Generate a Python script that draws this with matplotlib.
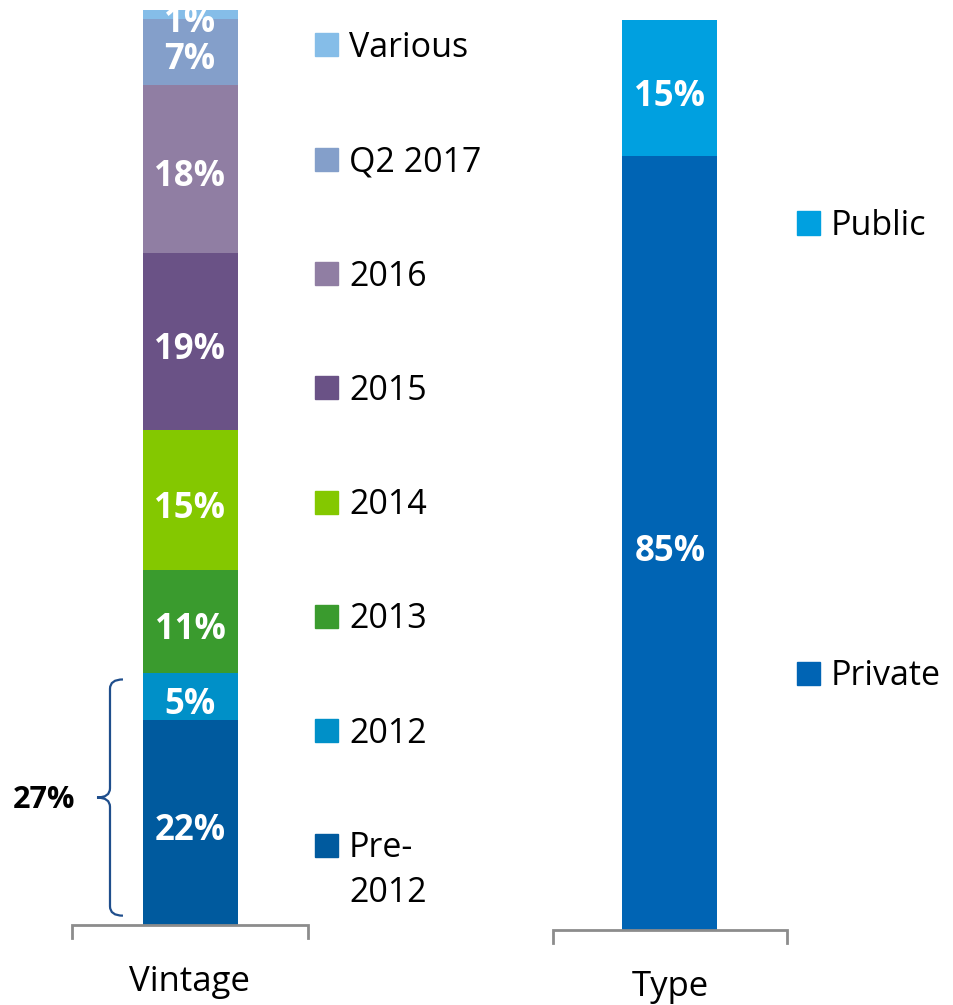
import matplotlib.pyplot as plt
from matplotlib.patches import Rectangle, PathPatch
from matplotlib.path import Path
import matplotlib.transforms as mtransforms

plt.rcParams['font.family'] = ['Open Sans', 'DejaVu Sans']

# Vintage breakdown (bottom to top)
vintage_labels = ['Pre-\n2012', '2012', '2013', '2014', '2015', '2016', 'Q2 2017', 'Various']
vintage_values = [22, 5, 11, 15, 19, 18, 7, 1]
vintage_colors = ['#005A9E', '#0090C8', '#3A9B2E', '#84C800', '#6A5286', '#907EA3', '#849FCA', '#85BDE8']

# Type breakdown (bottom to top)
type_labels = ['Private', 'Public']
type_values = [85, 15]
type_colors = ['#0064B4', '#00A0E0']

bracket_total = vintage_values[0] + vintage_values[1]

W, H = 954, 1005
fig = plt.figure(figsize=(W / 100, H / 100), dpi=100)


def px_axes(x0, x1, ytop, ybot):
    return fig.add_axes([x0 / W, 1 - ybot / H, (x1 - x0) / W, (ybot - ytop) / H])


def stacked(ax, values, colors, width, top):
    bottom = 0
    for v, c in zip(values, colors):
        ax.bar(0, v, width=width, bottom=bottom, color=c, edgecolor='none')
        ax.annotate(f'{v}%', (0, bottom + v / 2), xytext=(0, -6), textcoords='offset points',
                    ha='center', va='center', color='white',
                    fontsize=25, fontweight='bold', annotation_clip=False).set_clip_on(True)
        bottom += v
    ax.set_xlim(-0.5, 0.5)
    ax.set_ylim(0, top)
    ax.axis('off')
    # bracket-style baseline
    ax.plot([0, 0, 1, 1], [-0.014, 0, 0, -0.014], transform=ax.transAxes,
            color='#8C8C8C', lw=2, clip_on=False, solid_joinstyle='miter')


ax1 = px_axes(72, 308, 10, 925)
stacked(ax1, vintage_values, vintage_colors, 95 / 236, sum(vintage_values))

ax2 = px_axes(553, 787, 20, 930)
stacked(ax2, type_values, type_colors, 95 / 234, sum(type_values))

fig.text(190 / W, 1 - 982 / H, 'Vintage', ha='center', va='center', fontsize=25)
fig.text(670 / W, 1 - 987 / H, 'Type', ha='center', va='center', fontsize=25)

# legends drawn as squares + text
def legend_item(xm, yc, label, color):
    fig.patches.append(Rectangle((xm / W, 1 - (yc + 11.5) / H), 23 / W, 23 / H,
                                 transform=fig.transFigure, color=color))
    fig.text((xm + 34) / W, 1 - (yc - 14) / H, label, ha='left', va='top',
             fontsize=24.5, linespacing=1.42)

for i, (lab, col) in enumerate(zip(vintage_labels[::-1], vintage_colors[::-1])):
    legend_item(315, 45 + i * 114.3, lab, col)

for i, (lab, col) in enumerate(zip(type_labels[::-1], type_colors[::-1])):
    legend_item(797, 223 + i * 450, lab, col)

# curly brace for Pre-2012 + 2012
tr = mtransforms.blended_transform_factory(ax1.transAxes, ax1.transData)
y1, y2 = 1.0, bracket_total - 0.7
ym = (y1 + y2) / 2
xe, xs, xt = 0.216, 0.161, 0.106
d = 1.0
verts = [(xe, y1), (xs, y1), (xs, y1 + d),
         (xs, ym - d),
         (xs, ym), (xt, ym),
         (xs, ym), (xs, ym + d),
         (xs, y2 - d),
         (xs, y2), (xe, y2)]
codes = [Path.MOVETO, Path.CURVE3, Path.CURVE3,
         Path.LINETO,
         Path.CURVE3, Path.CURVE3,
         Path.CURVE3, Path.CURVE3,
         Path.LINETO,
         Path.CURVE3, Path.CURVE3]
ax1.add_patch(PathPatch(Path(verts, codes), transform=tr, fill=False,
                        edgecolor='#1F4E8C', lw=1.6, clip_on=False))
fig.text(44 / W, 1 - 800 / H, f'{bracket_total}%', ha='center', va='center',
         fontsize=22, fontweight='bold', color='black')

fig.savefig('out.png', dpi=100)
